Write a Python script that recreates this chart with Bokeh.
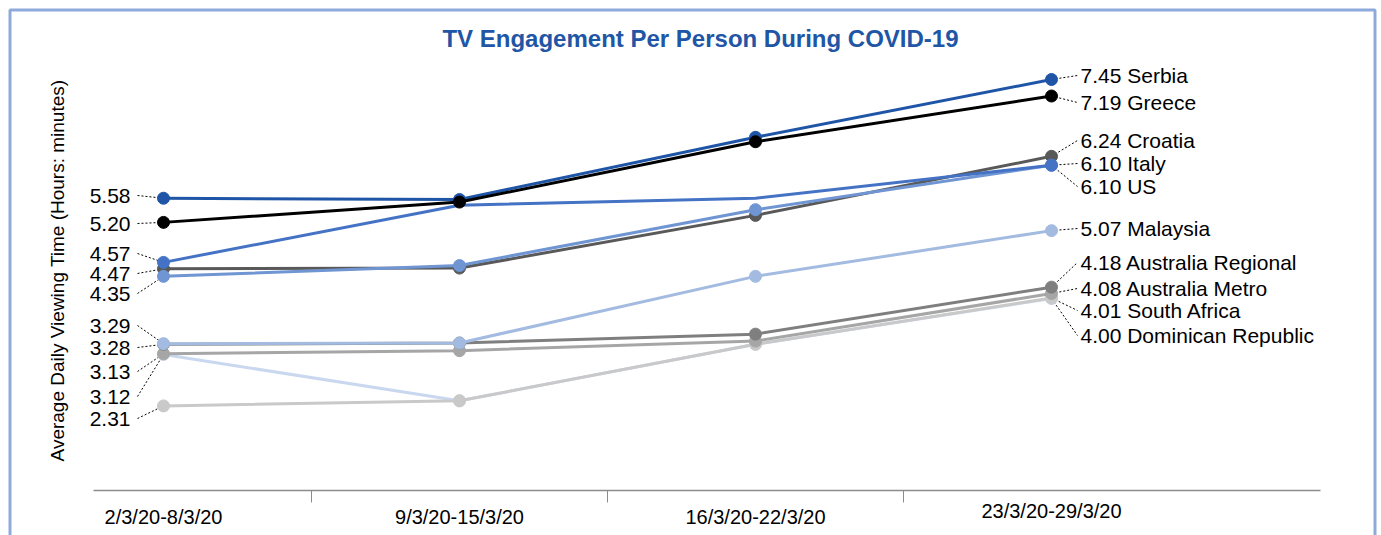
import math
from bokeh.plotting import figure
from bokeh.models import Range1d
from bokeh.core.properties import value
from bokeh.embed import file_html
from bokeh.resources import INLINE

# ---------------- data ----------------
weeks = ["2/3/20-8/3/20", "9/3/20-15/3/20", "16/3/20-22/3/20", "23/3/20-29/3/20"]
serbia = [5.58, 5.56, 6.54, 7.45]
greece = [5.20, 5.52, 6.47, 7.19]
croatia = [4.47, 4.48, 5.31, 6.24]
italy = [4.35, 4.52, 5.40, 6.10]
us = [4.57, 5.47, 5.58, 6.10]
malaysia = [3.29, 3.30, 4.35, 5.07]
aus_regional = [3.28, 3.30, 3.44, 4.18]
aus_metro = [3.13, 3.18, 3.33, 4.08]
south_africa = [2.31, 2.39, 3.28, 4.01]
dominican = [3.12, 2.39, 3.28, 4.00]
title = "TV Engagement Per Person During COVID-19"
y_title = "Average Daily Viewing Time (Hours: minutes)"

# which points carry a marker (the US line has none in the middle weeks)
all_markers = [True, True, True, True]
us_markers = [True, False, False, True]

# draw order (bottom first): name, values, colour, markers
series = [
    ("Dominican Republic", dominican, "#c9d8ef", all_markers),
    ("South Africa", south_africa, "#c9c9c9", all_markers),
    ("Australia Metro", aus_metro, "#a6a6a6", all_markers),
    ("Australia Regional", aus_regional, "#7f7f7f", all_markers),
    ("Malaysia", malaysia, "#a3bbe0", all_markers),
    ("Croatia", croatia, "#595959", all_markers),
    ("Italy", italy, "#6f95d3", all_markers),
    ("US", us, "#4472c4", us_markers),
    ("Serbia", serbia, "#1f55a6", all_markers),
    ("Greece", greece, "#000000", all_markers),
]

# label layout (page pixel y of label centres)
left_order = ["Serbia", "Greece", "US", "Croatia", "Italy", "Malaysia",
              "Australia Regional", "Australia Metro", "Dominican Republic", "South Africa"]
left_label_y = [195, 223, 253, 273, 293, 325, 347, 371, 396, 418]
right_order = ["Serbia", "Greece", "Croatia", "Italy", "US", "Malaysia",
               "Australia Regional", "Australia Metro", "South Africa", "Dominican Republic"]
right_label_y = [75, 102, 140, 163, 186, 228, 262, 288, 310, 335]
week_label_y = [516, 516, 516, 510]

# ---------------- layout mapping (page px -> data) ----------------
W, H = 1380, 535
OX, OY = 0, 0  # canvas origin on the page
X0, DX = 163, 296.0
Y0, V0, DY = 79, 7.45, 63.5


def dx(px):
    return (px - X0) / DX


def dy(py):
    return V0 - (py - Y0) / DY


FONT = value("Liberation Sans")

p = figure(width=W, height=H, x_range=Range1d(dx(OX), dx(OX + W)),
           y_range=Range1d(dy(OY + H), dy(OY)), output_backend="svg",
           toolbar_location=None, x_axis_type=None, y_axis_type=None,
           min_border=0)
p.grid.visible = False
p.outline_line_color = None
p.background_fill_color = "white"
p.border_fill_color = "white"

# frame border
p.line(x=[dx(9.5), dx(9.5), dx(1374.5), dx(1374.5)],
       y=[dy(700), dy(9.5), dy(9.5), dy(700)], line_color="#8eaadb", line_width=3)

# title & y title
p.text(x=[dx(700)], y=[dy(38)], text=[title], text_align="center",
       text_baseline="middle", text_font=FONT, text_font_size="24px",
       text_font_style="bold", text_color="#2155a5")
p.text(x=[dx(57)], y=[dy(270)], text=[y_title], angle=math.pi / 2,
       text_align="center", text_baseline="middle", text_font=FONT,
       text_font_size="19px", text_color="#000000")

# x axis
p.segment(x0=[dx(93)], y0=[dy(490)], x1=[dx(1320)], y1=[dy(490)],
          line_color="#8c8c8c", line_width=1.5)
seps = [i + 0.5 for i in range(len(weeks) - 1)]
p.segment(x0=seps, y0=[dy(490)] * len(seps), x1=seps, y1=[dy(502)] * len(seps),
          line_color="#8c8c8c", line_width=1)
p.text(x=list(range(len(weeks))), y=[dy(v) for v in week_label_y], text=weeks,
       text_align="center", text_baseline="middle", text_font=FONT,
       text_font_size="20px", text_color="#000000")

lookup = {name: vals for name, vals, _, _ in series}

# leader lines
for name, ly in zip(left_order, left_label_y):
    p.segment(x0=[dx(137)], y0=[dy(ly)], x1=[0], y1=[lookup[name][0]],
              line_color="#000000", line_width=1, line_dash="2 2")
for name, ly in zip(right_order, right_label_y):
    p.segment(x0=[len(weeks) - 1], y0=[lookup[name][-1]], x1=[dx(1077)], y1=[dy(ly)],
              line_color="#000000", line_width=1, line_dash="2 2")

# series
xs = list(range(len(weeks)))
for name, vals, col, marks in series:
    p.line(x=xs, y=vals, line_color=col, line_width=3)
    mx = [x for x, m in zip(xs, marks) if m]
    my = [v for v, m in zip(vals, marks) if m]
    p.scatter(x=mx, y=my, size=12, fill_color=col, line_color=col)

# value labels
p.text(x=[dx(130)] * len(left_order), y=[dy(v) for v in left_label_y],
       text=[f"{lookup[n][0]:.2f}" for n in left_order], text_align="right",
       text_baseline="middle", text_font=FONT, text_font_size="21px",
       text_color="#000000")
p.text(x=[dx(1080)] * len(right_order), y=[dy(v) for v in right_label_y],
       text=[f"{lookup[n][-1]:.2f} {n}" for n in right_order], text_align="left",
       text_baseline="middle", text_font=FONT, text_font_size="21px",
       text_color="#000000")

open("out.html", "w").write(file_html(p, INLINE))
